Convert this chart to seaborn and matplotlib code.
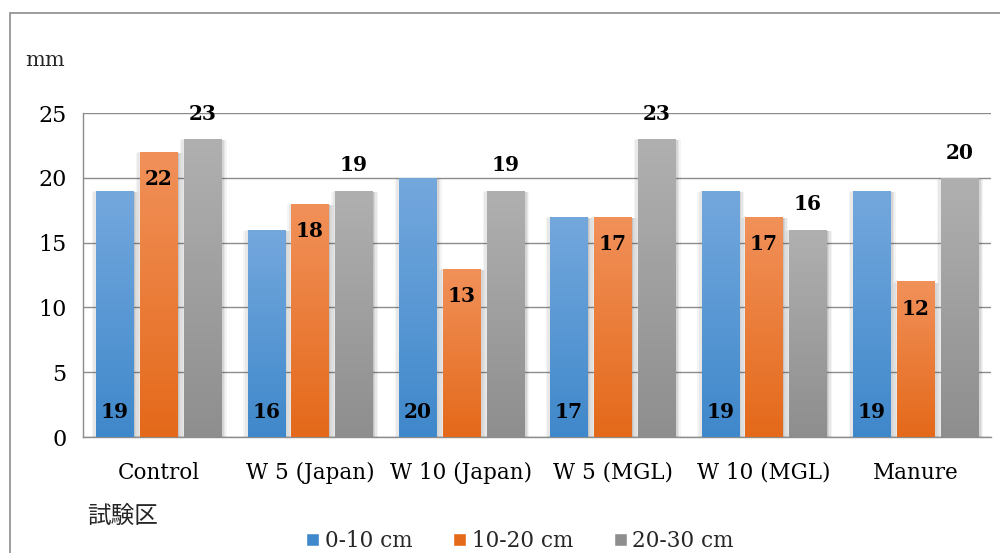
import numpy as np
import pandas as pd
import seaborn as sns
import matplotlib
matplotlib.use("Agg")
import matplotlib.pyplot as plt
from matplotlib.patches import Rectangle
from matplotlib.colors import LinearSegmentedColormap
import matplotlib.patheffects as pe

# ---- data -------------------------------------------------------------
plots = ["Control", "W 5 (Japan)", "W 10 (Japan)", "W 5 (MGL)", "W 10 (MGL)", "Manure"]
depths = ["0-10 cm", "10-20 cm", "20-30 cm"]
depth_0_10 = [19, 16, 20, 17, 19, 19]
depth_10_20 = [22, 18, 13, 17, 17, 12]
depth_20_30 = [23, 19, 19, 23, 16, 20]
yticks = [0, 5, 10, 15, 20, 25]

df = pd.DataFrame({
    "plot": plots * 3,
    "depth": [depths[0]] * 6 + [depths[1]] * 6 + [depths[2]] * 6,
    "value": depth_0_10 + depth_10_20 + depth_20_30,
})

# top / bottom colours of the vertical gradients
grad = {
    depths[0]: ("#74A8DD", "#3F88CB"),
    depths[1]: ("#F1915A", "#E4691A"),
    depths[2]: ("#B0B0B0", "#8E8E8E"),
}
solid = {k: v[1] for k, v in grad.items()}

sns.set_theme(style="white")
plt.rcParams["font.family"] = ["DejaVu Serif", "Noto Sans CJK JP"]

fig = plt.figure(figsize=(10, 5.53), dpi=100)
W, H = 1000, 553
ax = fig.add_axes([83 / W, 1 - 437 / H, (991 - 83) / W, (437 - 113) / H])

sns.barplot(data=df, x="plot", y="value", hue="depth", order=plots,
            hue_order=depths, palette=solid, width=0.87, gap=0.155,
            ax=ax, legend=False, zorder=3, linewidth=0)

ax.set_xlim(-0.5, len(plots) - 0.5)
ax.set_ylim(0, 25)

# gradient fill and soft shadow on every bar
shadow = [pe.SimplePatchShadow(offset=off, shadow_rgbFace="#444444", alpha=a)
          for off, a in [((4, -1), 0.06), ((3, -1), 0.08), ((-3, -1), 0.05),
                         ((2, -1), 0.10), ((-2, 0), 0.07), ((1, -1), 0.12)]]
shadow.append(pe.Normal())
for cont, dep in zip(ax.containers, depths):
    cmap = LinearSegmentedColormap.from_list(dep, [grad[dep][1], grad[dep][0]])
    for bar in cont:
        bar.set_path_effects(shadow)
        x0, w, h = bar.get_x(), bar.get_width(), bar.get_height()
        img = ax.imshow(np.linspace(0, 1, 256).reshape(-1, 1), cmap=cmap,
                        extent=(x0, x0 + w, 0, h), origin="lower",
                        aspect="auto", zorder=4, interpolation="bicubic")
        img.set_clip_path(bar)
ax.set_xlim(-0.5, len(plots) - 0.5)
ax.set_ylim(0, 25)

# value labels: base / inside-end / outside-end
lab_kw = dict(ha="center", va="center", fontsize=14.5, fontweight="bold",
              color="black", zorder=6)
for i, bar in enumerate(ax.containers[0]):
    cx = bar.get_x() + bar.get_width() / 2
    ax.text(cx, 1.9, f"{depth_0_10[i]}", **lab_kw)
for i, bar in enumerate(ax.containers[1]):
    cx = bar.get_x() + bar.get_width() / 2
    ax.text(cx, depth_10_20[i] - 2.1, f"{depth_10_20[i]}", **lab_kw)
for i, bar in enumerate(ax.containers[2]):
    cx = bar.get_x() + bar.get_width() / 2
    ax.text(cx, depth_20_30[i] + 1.95, f"{depth_20_30[i]}", **lab_kw)

# axes styling
ax.set_yticks(yticks)
ax.yaxis.grid(True, color="#8C8C8C", linewidth=1, zorder=0)
ax.set_axisbelow(True)
for s in ["top", "right"]:
    ax.spines[s].set_visible(False)
ax.spines["left"].set_color("#8C8C8C")
ax.spines["bottom"].set_color("#8C8C8C")
ax.spines["left"].set_linewidth(1)
ax.spines["bottom"].set_linewidth(1)
ax.tick_params(axis="y", length=0, labelsize=16, pad=12, colors="black")
ax.set_xticks(np.arange(len(plots)))
ax.set_xticklabels(plots)
ax.tick_params(axis="x", which="major", direction="inout", length=10,
               color="#8C8C8C", labelsize=15.5, pad=13, labelcolor="black")
ax.set_xticks(np.arange(-0.5, len(plots)), minor=True)
ax.tick_params(axis="x", which="minor", direction="inout", length=14,
               color="#8C8C8C")
ax.set_xlabel("")
ax.set_ylabel("")

# unit and category captions
fig.text(25 / W, 1 - 60 / H, "mm", fontsize=15, va="center", ha="left")
fig.text(87 / W, 1 - 516 / H, "試験区", fontsize=17, va="center", ha="left",
         family=["Noto Sans CJK JP", "DejaVu Serif"])

# legend
handles = [Rectangle((0, 0), 1, 1, facecolor=grad[d][1]) for d in depths]
fig.legend(handles, depths, loc="center", bbox_to_anchor=(0.52, 1 - 541 / H),
           ncol=3, frameon=False, fontsize=15.5, handlelength=0.6,
           handleheight=0.6, handletextpad=0.25, columnspacing=1.9)

# chart frame (right and bottom edges fall outside the image)
fig.add_artist(Rectangle((10 / W, -0.05), 1.2, 1 - 13 / H + 0.05,
                         transform=fig.transFigure, fill=False,
                         edgecolor="#8C8C8C", linewidth=1.2))

fig.savefig("out.png", dpi=100)
